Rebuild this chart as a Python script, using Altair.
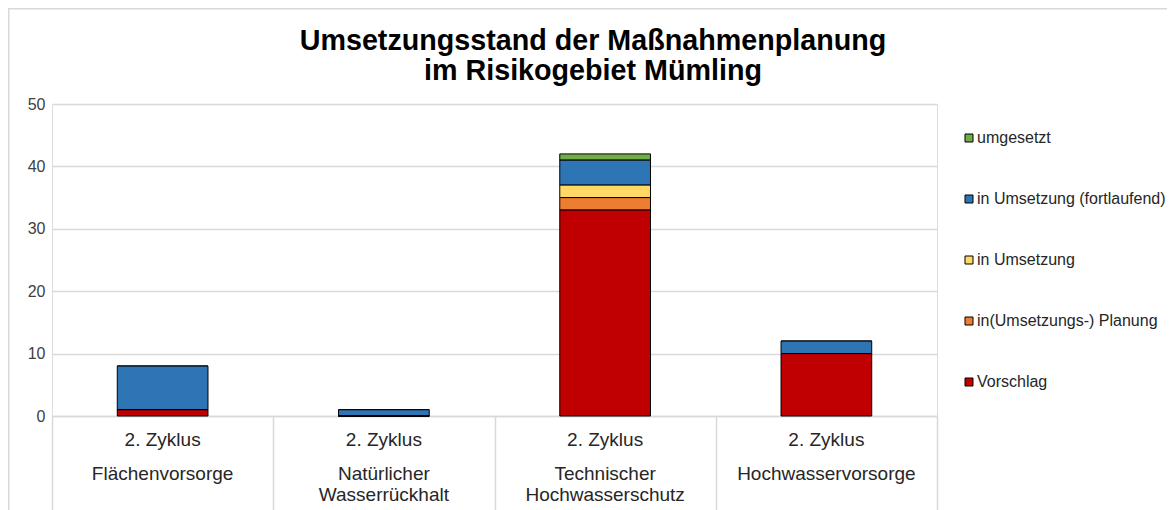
import altair as alt
import pandas as pd

categories = ["Flächenvorsorge", "Natürlicher\nWasserrückhalt", "Technischer\nHochwasserschutz", "Hochwasservorsorge"]
cycle_label = "2. Zyklus"
series = ["umgesetzt", "in Umsetzung (fortlaufend)", "in Umsetzung", "in(Umsetzungs-) Planung", "Vorschlag"]
colors = ["#70AD47", "#2E75B6", "#FFD966", "#ED7D31", "#C00000"]
stack_rank = [4, 3, 2, 1, 0]
title_lines = ["Umsetzungsstand der Maßnahmenplanung", "im Risikogebiet Mümling"]

vorschlag = [1, 0, 33, 10]
planung = [0, 0, 2, 0]
umsetzung = [0, 0, 2, 0]
fortlaufend = [7, 1, 4, 2]
umgesetzt = [0, 0, 1, 0]

values_by_series = {
    "umgesetzt": umgesetzt,
    "in Umsetzung (fortlaufend)": fortlaufend,
    "in Umsetzung": umsetzung,
    "in(Umsetzungs-) Planung": planung,
    "Vorschlag": vorschlag,
}

rows = []
for s, r in zip(series, stack_rank):
    for c, v in zip(categories, values_by_series[s]):
        rows.append({"cat": c, "series": s, "value": v, "rank": r})
df = pd.DataFrame(rows)
cat_df = pd.DataFrame({"cat": categories, "cycle": [cycle_label] * len(categories)})
frame_df = pd.DataFrame({"a": [0]})
title_df = pd.DataFrame({"t": ["\n".join(title_lines)]})

FONT = "Liberation Sans"
W, H = 885, 312

xscale = alt.Scale(domain=categories, paddingInner=0, paddingOuter=0)

frame = alt.Chart(frame_df).mark_rect(fill=None, stroke="#d9d9d9", strokeWidth=1.5).encode(
    x=alt.value(-43.25), x2=alt.value(1300), y=alt.value(-95.25), y2=alt.value(700)
)

title = alt.Chart(title_df).mark_text(font=FONT, fontSize=28.7, fontWeight="bold", color="black",
                                      baseline="middle", align="center", lineBreak="\n",
                                      lineHeight=30).encode(
    x=alt.value(541), y=alt.value(-63), text="t:N"
)

bars = alt.Chart(df).mark_bar(width={"band": 0.41}, stroke="black", strokeWidth=1).encode(
    x=alt.X("cat:N", scale=xscale, sort=categories,
            axis=alt.Axis(title=None, labels=False, tickBand="extent", tickSize=94,
                          tickColor="#d9d9d9", tickWidth=1.5, domainColor="#d9d9d9", domainWidth=1.5,
                          grid=False)),
    y=alt.Y("value:Q", stack="zero", scale=alt.Scale(domain=[0, 50], nice=False),
            axis=alt.Axis(title=None, values=[0, 10, 20, 30, 40, 50], ticks=False, domain=False,
                          gridColor="#d9d9d9", gridWidth=1.5, labelFont=FONT, labelFontSize=16,
                          labelColor="#404040", labelPadding=7)),
    color=alt.Color("series:N", scale=alt.Scale(domain=series, range=colors),
                    legend=alt.Legend(title=None, orient="none", legendX=909, legendY=26,
                                      symbolType="square", symbolSize=64, symbolStrokeColor="black",
                                      symbolStrokeWidth=1, labelFont=FONT, labelFontSize=16,
                                      labelColor="#262626", labelOffset=0, labelLimit=0,
                                      rowPadding=45, padding=0)),
    order=alt.Order("rank:Q", sort="ascending"),
)

cycle_text = alt.Chart(cat_df).mark_text(font=FONT, fontSize=19, color="#262626", baseline="middle").encode(
    x=alt.X("cat:N", scale=xscale, sort=categories), y=alt.value(336), text="cycle:N"
)
cat_text = alt.Chart(cat_df).mark_text(font=FONT, fontSize=19, color="#262626", baseline="top",
                                       lineBreak="\n", lineHeight=21.5).encode(
    x=alt.X("cat:N", scale=xscale, sort=categories), y=alt.value(360.5), text="cat:N"
)

chart = alt.layer(frame, title, bars, cycle_text, cat_text).properties(
    width=W, height=H,
    autosize=alt.AutoSizeParams(type="none"),
    padding={"left": 44, "top": 96, "right": 230, "bottom": 98},
).configure_view(stroke=None).configure(background="white")

chart.save("out.html", embed_options={"renderer": "svg", "actions": False})
